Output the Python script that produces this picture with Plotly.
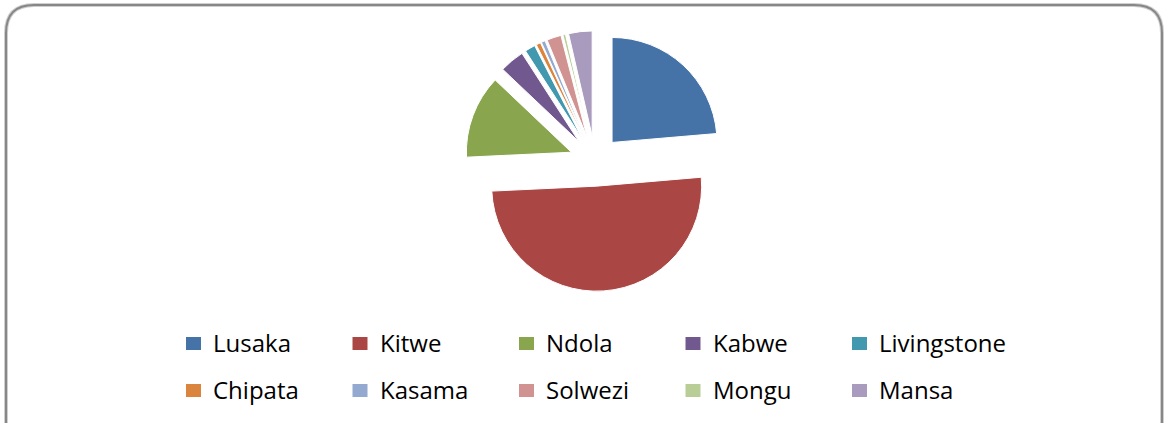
import plotly.graph_objects as go

W, H = 1167, 423

cities = ["Lusaka", "Kitwe", "Ndola", "Kabwe", "Livingstone",
          "Chipata", "Kasama", "Solwezi", "Mongu", "Mansa"]
shares = [23.6, 50.5, 12.8, 3.8, 1.6, 0.7, 0.6, 2.2, 0.4, 3.6]
colors = ["#4572A7", "#AA4643", "#89A54E", "#71588F", "#4198AF",
          "#DB843D", "#93A9CF", "#D19392", "#B9CD96", "#A99BBD"]


def px(x):
    return x / W


def py(y):
    return 1 - y / H


# pie geometry (pixels)
cx, cy, r, pull = 595, 161, 105, 0.24
half = r * (1 + pull)

fig = go.Figure(go.Pie(
    labels=cities,
    values=shares,
    sort=False,
    direction="clockwise",
    rotation=0,
    pull=[pull] * len(cities),
    marker=dict(colors=colors, line=dict(color="white", width=1)),
    textinfo="none",
    hoverinfo="label+percent",
    showlegend=False,
    domain=dict(x=[px(cx - half), px(cx + half)],
                y=[py(cy + half), py(cy - half)]),
))

# rounded chart-area border
L, T, R, B, rad = 6, 5, 1162, 440, 28
path = (f"M {px(L)},{py(B)} L {px(L)},{py(T + rad)} "
        f"Q {px(L)},{py(T)} {px(L + rad)},{py(T)} "
        f"L {px(R - rad)},{py(T)} "
        f"Q {px(R)},{py(T)} {px(R)},{py(T + rad)} "
        f"L {px(R)},{py(B)}")
fig.add_shape(type="path", path=path, xref="paper", yref="paper",
              line=dict(color="#cfcfcf", width=4), layer="below")
fig.add_shape(type="path", path=path, xref="paper", yref="paper",
              line=dict(color="#878787", width=2), layer="below")

# legend: 2 rows x 5 columns, built from the category/colour lists
ncol = 5
col0_sw, col0_tx, col_step = 186, 211, 166.5
row0, row_step = 343.5, 47
sw_w, sw_h = 15, 13
for i, (name, col) in enumerate(zip(cities, colors)):
    rr, cc = divmod(i, ncol)
    xs = col0_sw + cc * col_step
    yc = row0 + rr * row_step
    fig.add_shape(type="rect", xref="paper", yref="paper",
                  x0=px(xs), x1=px(xs + sw_w),
                  y0=py(yc + sw_h / 2), y1=py(yc - sw_h / 2),
                  fillcolor=col, line=dict(width=0))
    fig.add_annotation(x=px(col0_tx + cc * col_step), y=py(yc - 1),
                       xref="paper", yref="paper",
                       text=name, showarrow=False,
                       xanchor="left", yanchor="middle",
                       font=dict(family="Open Sans, Arial, sans-serif",
                                 size=24, color="#000000"))

fig.update_layout(
    width=W, height=H,
    margin=dict(l=0, r=0, t=0, b=0),
    paper_bgcolor="white",
    plot_bgcolor="white",
    showlegend=False,
)

fig.write_html("out.html",
               config={"displayModeBar": False},
               post_script="document.body.style.margin='0';"
                           "document.body.style.overflow='hidden';")
